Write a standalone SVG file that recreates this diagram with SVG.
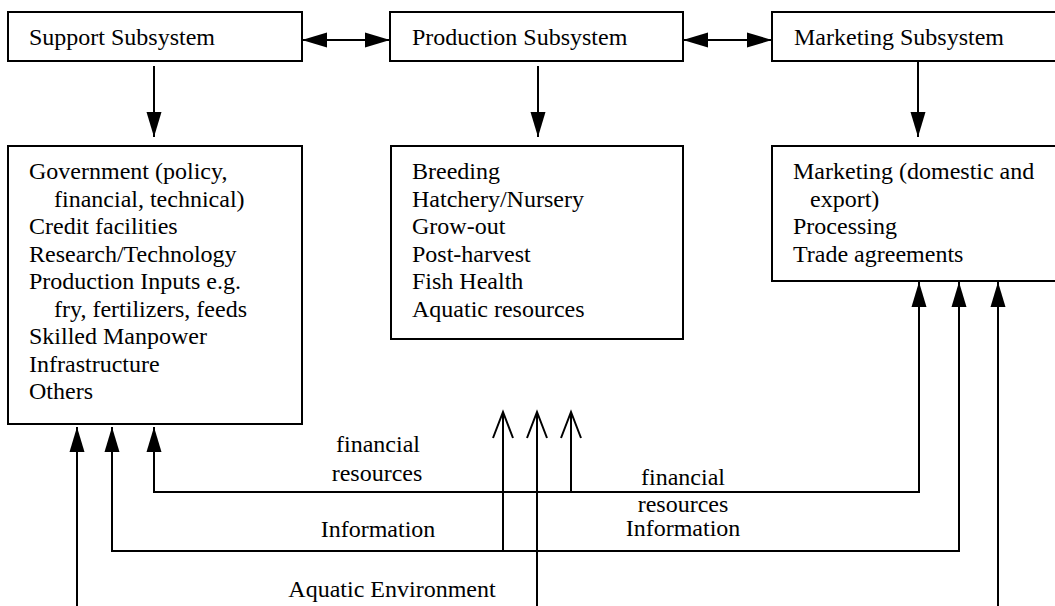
<svg xmlns="http://www.w3.org/2000/svg" width="1055" height="606" viewBox="0 0 1055 606" font-family="'Liberation Serif', 'Times New Roman', 'DejaVu Serif', serif" font-size="24">
<style>
.box{fill:#fff;stroke:#000;stroke-width:2}
text{font-family:'Liberation Serif','Times New Roman','DejaVu Serif',serif;font-size:24px;fill:#000}
.mid{text-anchor:middle}
.ln{fill:none;stroke:#000;stroke-width:2}
</style>
<defs>
<marker id="ah" markerUnits="userSpaceOnUse" markerWidth="26" markerHeight="16" refX="25" refY="7.5" orient="auto-start-reverse" overflow="visible">
<path d="M0,0 L25,7.5 L0,15 z" fill="#000"/>
</marker>
<marker id="oh" markerUnits="userSpaceOnUse" markerWidth="28" markerHeight="22" refX="26" refY="10" orient="auto" overflow="visible">
<path d="M0,0 L26,10 L0,20" fill="none" stroke="#000" stroke-width="2"/>
</marker>
</defs>
<rect width="1055" height="606" fill="#fff"/>

<g id="support-subsystem">
<rect class="box" x="8" y="12" width="294" height="49"/>
<text x="29" y="45">Support Subsystem</text>
</g>
<g id="production-subsystem">
<rect class="box" x="390" y="12" width="293" height="49"/>
<text x="412" y="45">Production Subsystem</text>
</g>
<g id="marketing-subsystem">
<rect class="box" x="772" y="12" width="300" height="49"/>
<text x="794" y="45">Marketing Subsystem</text>
</g>

<g id="support-details">
<rect class="box" x="8" y="146" width="294" height="278"/>
<text x="29" y="179">Government (policy,</text>
<text x="54" y="206.5">financial, technical)</text>
<text x="29" y="234">Credit facilities</text>
<text x="29" y="261.5">Research/Technology</text>
<text x="29" y="289">Production Inputs e.g.</text>
<text x="54" y="316.5">fry, fertilizers, feeds</text>
<text x="29" y="344">Skilled Manpower</text>
<text x="29" y="371.5">Infrastructure</text>
<text x="29" y="399">Others</text>
</g>
<g id="production-details">
<rect class="box" x="391" y="146" width="292" height="193"/>
<text x="412" y="179">Breeding</text>
<text x="412" y="206.5">Hatchery/Nursery</text>
<text x="412" y="234">Grow-out</text>
<text x="412" y="261.5">Post-harvest</text>
<text x="412" y="289">Fish Health</text>
<text x="412" y="317">Aquatic resources</text>
</g>
<g id="marketing-details">
<rect class="box" x="772" y="146" width="300" height="135"/>
<text x="793" y="179">Marketing (domestic and</text>
<text x="810" y="206.5">export)</text>
<text x="793" y="234">Processing</text>
<text x="793" y="261.5">Trade agreements</text>
</g>

<g id="connectors">
<line class="ln" x1="302" y1="40" x2="390" y2="40" marker-start="url(#ah)" marker-end="url(#ah)"/>
<line class="ln" x1="683" y1="40" x2="772" y2="40" marker-start="url(#ah)" marker-end="url(#ah)"/>
<line class="ln" x1="154" y1="66" x2="154" y2="137" marker-end="url(#ah)"/>
<line class="ln" x1="538" y1="66" x2="538" y2="137" marker-end="url(#ah)"/>
<line class="ln" x1="918" y1="61" x2="918" y2="137" marker-end="url(#ah)"/>
<polyline class="ln" points="919,282 919,492 154,492 154,427" marker-start="url(#ah)" marker-end="url(#ah)"/>
<polyline class="ln" points="959,282 959,551 112,551 112,427" marker-start="url(#ah)" marker-end="url(#ah)"/>
<line class="ln" x1="998" y1="610" x2="998" y2="282" marker-end="url(#ah)"/>
<line class="ln" x1="77" y1="610" x2="77" y2="427" marker-end="url(#ah)"/>
<line class="ln" x1="537" y1="610" x2="537" y2="412" marker-end="url(#oh)"/>
<line class="ln" x1="503" y1="551" x2="503" y2="412" marker-end="url(#oh)"/>
<line class="ln" x1="571" y1="492" x2="571" y2="412" marker-end="url(#oh)"/>
</g>

<g id="labels">
<text class="mid" x="378" y="452">financial</text>
<text class="mid" x="377" y="481">resources</text>
<text class="mid" x="378" y="537">Information</text>
<text class="mid" x="392" y="597">Aquatic Environment</text>
<text class="mid" x="683" y="485">financial</text>
<text class="mid" x="683" y="512">resources</text>
<text class="mid" x="683" y="536">Information</text>
</g>
</svg>
